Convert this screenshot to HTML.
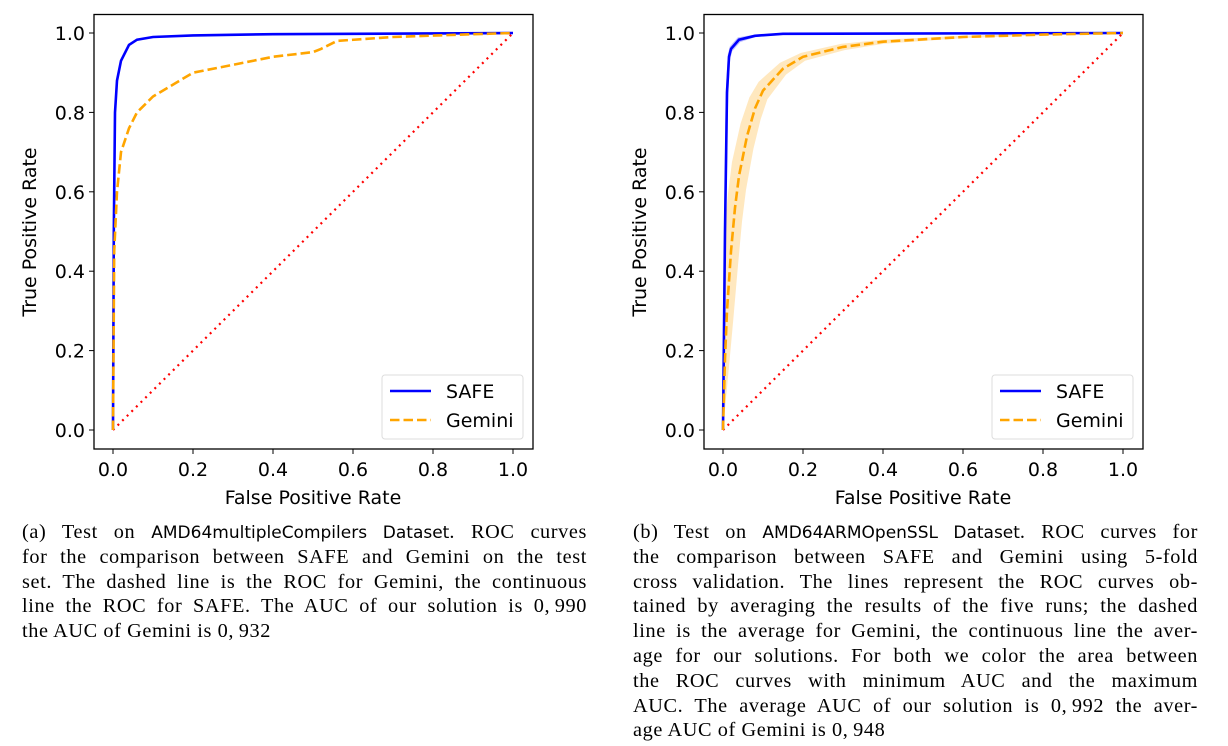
<!DOCTYPE html>
<html><head><meta charset="utf-8">
<style>
body{margin:0;width:1228px;height:746px;background:#fff;overflow:hidden;position:relative}
svg{position:absolute;left:0;top:0}
.cap{position:absolute;font-family:"Liberation Serif",serif;font-size:20.3px;letter-spacing:0.6px;line-height:24.8px;color:#000}
.cap .l{text-align:justify;text-align-last:justify;white-space:nowrap;height:24.8px}
.cap .l.last{text-align-last:left}
.ss{font-family:"DejaVu Sans","Liberation Sans",sans-serif;font-size:17px;letter-spacing:0}
</style></head><body>
<svg id="chart" width="1228" height="746"></svg>
<div class="cap" style="left:22px;top:520px;width:565px">
<div class="l">(a) Test on <span class="ss">AMD64multipleCompilers Dataset</span>. ROC curves</div>
<div class="l">for the comparison between SAFE and Gemini on the test</div>
<div class="l">set. The dashed line is the ROC for Gemini, the continuous</div>
<div class="l">line the ROC for SAFE. The AUC of our solution is 0,&#8201;990</div>
<div class="l last">the AUC of Gemini is 0,&#8201;932</div>
</div>
<div class="cap" style="left:633px;top:520px;width:565px">
<div class="l">(b) Test on <span class="ss">AMD64ARMOpenSSL Dataset</span>. ROC curves for</div>
<div class="l">the comparison between SAFE and Gemini using 5-fold</div>
<div class="l">cross validation. The lines represent the ROC curves ob-</div>
<div class="l">tained by averaging the results of the five runs; the dashed</div>
<div class="l">line is the average for Gemini, the continuous line the aver-</div>
<div class="l">age for our solutions. For both we color the area between</div>
<div class="l">the ROC curves with minimum AUC and the maximum</div>
<div class="l">AUC. The average AUC of our solution is 0,&#8201;992 the aver-</div>
<div class="l last">age AUC of Gemini is 0,&#8201;948</div>
</div>
<script>
const ticks=[0,0.2,0.4,0.6,0.8,1.0];
const tickLabels=["0.0","0.2","0.4","0.6","0.8","1.0"];
const safeA_x=[0,0.002,0.005,0.01,0.02,0.04,0.06,0.1,0.2,0.4,1];
const safeA_y=[0,0.5,0.8,0.88,0.93,0.97,0.983,0.99,0.994,0.997,1];
const gemA_x=[0,0.003,0.01,0.02,0.04,0.06,0.1,0.15,0.2,0.3,0.4,0.5,0.52,0.56,0.7,0.9,1];
const gemA_y=[0,0.45,0.6,0.7,0.76,0.8,0.84,0.87,0.9,0.92,0.94,0.952,0.96,0.98,0.99,0.997,1];
const safeB_x=[0,0.005,0.01,0.015,0.02,0.04,0.08,0.15,1];
const safeB_y=[0,0.5,0.85,0.94,0.96,0.983,0.993,0.998,1];
const safeB_band=[0,0.005,0.006,0.006,0.006,0.006,0.003,0.001,0];
const gemB_x=[0,0.005,0.01,0.02,0.03,0.04,0.06,0.08,0.1,0.15,0.2,0.3,0.4,0.6,0.8,1];
const gemB_y=[0,0.18,0.3,0.45,0.56,0.64,0.74,0.81,0.855,0.91,0.94,0.965,0.978,0.99,0.996,1];
const gemB_band=[0,0.02,0.03,0.035,0.035,0.035,0.032,0.028,0.022,0.015,0.01,0.008,0.005,0.003,0.002,0];
const NS="http://www.w3.org/2000/svg";
const svg=document.getElementById('chart');
const FF='DejaVu Sans, Liberation Sans, sans-serif';
function el(tag,attrs,parent){const e=document.createElementNS(NS,tag);for(const k in attrs)e.setAttribute(k,attrs[k]);(parent||svg).appendChild(e);return e;}
function panel(ox,name,sx,sy,gx,gy,sb,gb){
  const x0=ox+113,x1=ox+513,yT=33,yB=430;
  const X=v=>x0+v*(x1-x0), Y=v=>yB-v*(yB-yT);
  const g=el('g',{});
  
  
  const path=(xs,ys)=>xs.map((v,i)=>(i?'L':'M')+X(v).toFixed(1)+' '+Y(ys[i]).toFixed(1)).join(' ');
  function band(xs,ys,b,color,nm){
    let d=xs.map((v,i)=>(i?'L':'M')+X(Math.max(0,v-b[i]*0.5))+' '+Y(Math.min(1,ys[i]+b[i]))).join(' ');
    for(let i=xs.length-1;i>=0;i--)d+=' L'+X(xs[i]+b[i]*0.5)+' '+Y(Math.max(0,ys[i]-b[i]));
    const p=el('path',{d:d+'Z',fill:color,'fill-opacity':0.25,stroke:'none'},g);
    
    
  }
  if(gb)band(gx,gy,gb,'orange','gemini-band');
  if(sb)band(sx,sy,sb,'blue','safe-band');
  const diag=el('line',{x1:X(0),y1:Y(0),x2:X(1),y2:Y(1),stroke:'red','stroke-width':2.2,'stroke-dasharray':'2 4.5'},g);
  
  
  const s=el('path',{d:path(sx,sy),fill:'none',stroke:'blue','stroke-width':2.6},g);
  
  
  const gm=el('path',{d:path(gx,gy),fill:'none',stroke:'orange','stroke-width':2.6,'stroke-dasharray':'9.5 4'},g);
  
  
  const fr=el('rect',{x:ox+94,y:14.5,width:439,height:434.5,fill:'none',stroke:'#000','stroke-width':1.3},g);
  
  
  ticks.forEach((t,i)=>{
    el('line',{x1:X(t),y1:449,x2:X(t),y2:454,stroke:'#000','stroke-width':1},g);
    const tx=el('text',{x:X(t),y:476,'text-anchor':'middle','font-family':FF,'font-size':19},g);
    tx.textContent=tickLabels[i];
    
    
    el('line',{x1:ox+94,y1:Y(t),x2:ox+89,y2:Y(t),stroke:'#000','stroke-width':1},g);
    const ty=el('text',{x:ox+85,y:Y(t)+7,'text-anchor':'end','font-family':FF,'font-size':19},g);
    ty.textContent=tickLabels[i];
    
    
  });
  const xl=el('text',{x:ox+313,y:504,'text-anchor':'middle','font-family':FF,'font-size':19},g);
  xl.textContent='False Positive Rate';
  
  
  const yl=el('text',{x:0,y:0,'text-anchor':'middle','font-family':FF,'font-size':19,transform:`translate(${ox+36},232) rotate(-90)`},g);
  yl.textContent='True Positive Rate';
  
  
  const lg=el('g',{},g);
  
  
  el('rect',{x:ox+382,y:375,width:141,height:64,rx:3,fill:'#fff','fill-opacity':0.8,stroke:'#ddd','stroke-width':1},lg);
  el('line',{x1:ox+390,y1:391,x2:ox+431,y2:391,stroke:'blue','stroke-width':2.6},lg);
  el('line',{x1:ox+390,y1:420,x2:ox+431,y2:420,stroke:'orange','stroke-width':2.6,'stroke-dasharray':'9.5 4'},lg);
  const l1=el('text',{x:ox+446,y:398,'font-family':FF,'font-size':19},lg);l1.textContent='SAFE';
  
  
  const l2=el('text',{x:ox+446,y:427,'font-family':FF,'font-size':19},lg);l2.textContent='Gemini';
  
  
}
panel(0,'roc-panel-a',safeA_x,safeA_y,gemA_x,gemA_y,null,null);
panel(610,'roc-panel-b',safeB_x,safeB_y,gemB_x,gemB_y,safeB_band,gemB_band);
</script>
</body></html>
